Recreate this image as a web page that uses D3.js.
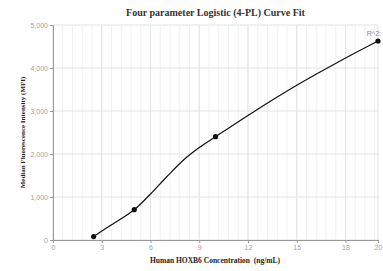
<!DOCTYPE html>
<html>
<head>
<meta charset="utf-8">
<script src="https://cdn.jsdelivr.net/npm/d3@7"></script>
<style>
  body { margin: 0; background: #fff; }
  svg { display: block; }
</style>
</head>
<body>
<svg width="383" height="271"></svg>
<script>
// standards (measured points)
const concentration = [2.5, 5, 10, 20];
const mfi = [80, 705, 2402, 4628];

// fitted curve
const fitX = [2.5, 3.5, 5, 6, 7, 8, 9, 10, 12.5, 15, 17.5, 20];
const fitY = [80, 330, 705, 1070, 1470, 1850, 2150, 2402, 3020, 3600, 4130, 4628];

const xTicks = [0, 3, 6, 9, 12, 15, 18, 20];
const yTicks = [0, 1000, 2000, 3000, 4000, 5000];
const minorX = d3.range(0, 20.01, 0.6);

const svg = d3.select("svg");

const x = d3.scaleLinear().domain([0, 20]).range([53, 378]);
const y = d3.scaleLinear().domain([0, 5000]).range([240, 25]);

// grid
svg.append("g")
  .selectAll("line")
  .data(minorX)
  .enter()
  .append("line")
  .attr("x1", d => x(d)).attr("x2", d => x(d))
  .attr("y1", y(0)).attr("y2", y(5000))
  .attr("stroke", "#f1f1f1");

svg.append("g")
  .selectAll("line")
  .data(xTicks)
  .enter()
  .append("line")
  .attr("x1", d => x(d)).attr("x2", d => x(d))
  .attr("y1", y(0)).attr("y2", y(5000))
  .attr("stroke", "#e3e3e3");

svg.append("g")
  .selectAll("line")
  .data(yTicks)
  .enter()
  .append("line")
  .attr("x1", x(0)).attr("x2", x(20))
  .attr("y1", d => y(d)).attr("y2", d => y(d))
  .attr("stroke", "#e3e3e3");

// axes
const xAxis = svg.append("g")
  .attr("transform", `translate(0,${y(0)})`)
  .call(d3.axisBottom(x).tickValues(xTicks).tickSize(3).tickPadding(2).tickFormat(d3.format("d")));
const yAxis = svg.append("g")
  .attr("transform", `translate(${x(0)},0)`)
  .call(d3.axisLeft(y).tickValues(yTicks).tickSize(3).tickPadding(2).tickFormat(d3.format(",")));

[xAxis, yAxis].forEach(a => {
  a.select(".domain").attr("stroke", "#999");
  a.selectAll(".tick line").attr("stroke", "#999");
  a.selectAll(".tick text")
    .attr("fill", "#a0a0a0")
    .style("font-family", "'Liberation Sans', Arial, sans-serif")
    .style("font-size", "7px");
});

// curve
const line = d3.line()
  .x((d, i) => x(fitX[i]))
  .y(d => y(d))
  .curve(d3.curveCatmullRom);

svg.append("path")
  .datum(fitY)
  .attr("d", line)
  .attr("fill", "none")
  .attr("stroke", "#111")
  .attr("stroke-width", 1.2);

svg.append("g")
  .selectAll("circle")
  .data(mfi)
  .enter()
  .append("circle")
  .attr("cx", (d, i) => x(concentration[i]))
  .attr("cy", d => y(d))
  .attr("r", 2.6)
  .attr("fill", "#111");

// labels
svg.append("text")
  .attr("x", 381).attr("y", 36)
  .attr("text-anchor", "end")
  .attr("fill", "#888")
  .style("font-family", "'Liberation Sans', Arial, sans-serif")
  .style("font-size", "7px")
  .text("R^2:");

const serif = "'Liberation Serif', 'Times New Roman', serif";

svg.append("text")
  .attr("x", 215.5).attr("y", 16)
  .attr("text-anchor", "middle")
  .style("font-family", serif)
  .style("font-weight", "bold")
  .style("font-size", "10px")
  .attr("fill", "#333")
  .text("Four parameter Logistic (4-PL) Curve Fit");

svg.append("text")
  .attr("x", 215).attr("y", 263)
  .attr("text-anchor", "middle")
  .style("font-family", serif)
  .style("font-weight", "bold")
  .style("font-size", "7.5px")
  .attr("fill", "#222")
  .attr("xml:space", "preserve")
  .text("Human HOXB6 Concentration  (ng/mL)");

svg.append("text")
  .attr("transform", "translate(25,132.5) rotate(-90)")
  .attr("text-anchor", "middle")
  .style("font-family", serif)
  .style("font-weight", "bold")
  .style("font-size", "7px")
  .attr("fill", "#222")
  .text("Median Fluorescence Intensity (MFI)");
</script>
</body>
</html>
